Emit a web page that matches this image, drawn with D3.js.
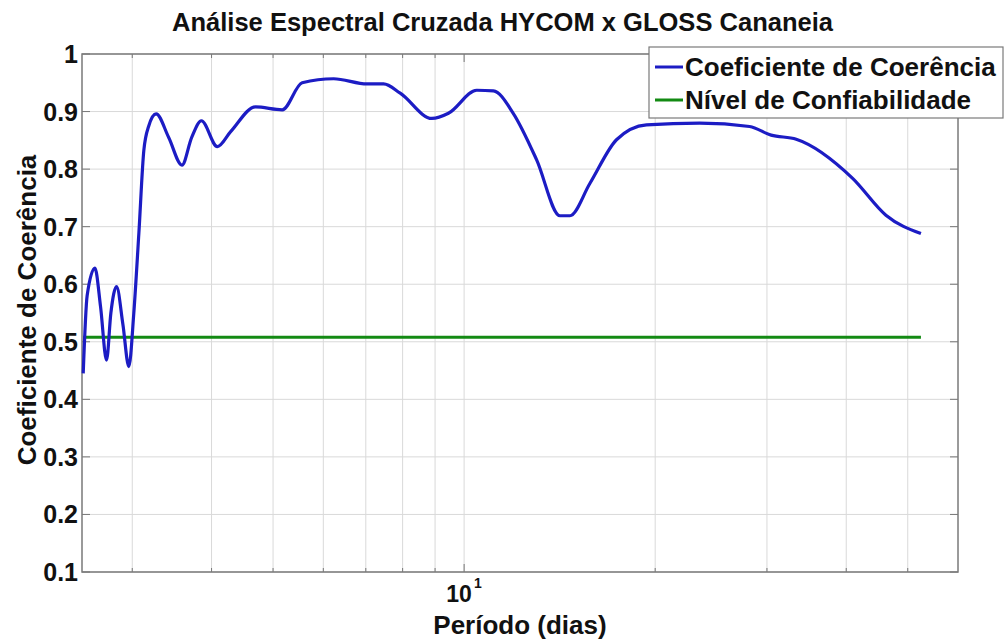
<!DOCTYPE html>
<html>
<head>
<meta charset="utf-8">
<script src="https://cdn.jsdelivr.net/npm/d3@7"></script>
<style>
  body { margin: 0; background: #fff; }
  text { font-family: "Liberation Sans", Arial, sans-serif; font-weight: bold; fill: #111; }
</style>
</head>
<body>
<div id="chart"></div>
<script>
// Period (days) and coherence
const period = [2.511, 2.547, 2.620, 2.674, 2.733, 2.776, 2.834, 2.900, 2.963, 3.017,
  3.073, 3.129, 3.185, 3.271, 3.424, 3.593, 3.722, 3.855, 4.085, 4.287,
  4.692, 5.169, 5.557, 6.230, 7.031, 7.466, 7.931, 8.897, 9.447, 10.47,
  11.12, 11.95, 13.01, 14.16, 14.68, 15.78, 17.38, 19.38, 23.50, 28.17,
  30.46, 33.36, 40.94, 46.19, 52.45];
const coherence = [0.445, 0.580, 0.628, 0.561, 0.468, 0.550, 0.596, 0.530, 0.457, 0.550,
  0.689, 0.833, 0.875, 0.896, 0.855, 0.807, 0.855, 0.884, 0.839, 0.865,
  0.908, 0.903, 0.950, 0.957, 0.948, 0.948, 0.932, 0.888, 0.897, 0.937,
  0.936, 0.897, 0.816, 0.719, 0.719, 0.775, 0.851, 0.877, 0.880, 0.874,
  0.859, 0.852, 0.784, 0.720, 0.688];
const confidenceLevel = 0.508;

const xDomain = [2.5, 60];
const yDomain = [0.1, 1];
const xGrid = [3, 4, 5, 6, 7, 8, 9, 10, 20, 30, 40, 50];
const yTicks = [0.1, 0.2, 0.3, 0.4, 0.5, 0.6, 0.7, 0.8, 0.9, 1];

const titleText = "Análise Espectral Cruzada HYCOM x GLOSS Cananeia";
const xLabel = "Período (dias)";
const yLabel = "Coeficiente de Coerência";
const legendLabels = ["Coeficiente de Coerência", "Nível de Confiabilidade"];

const W = 1007, H = 642;
const margin = { top: 54, right: 49, bottom: 70, left: 82 };
const width = W - margin.left - margin.right;
const height = H - margin.top - margin.bottom;

const svg = d3.select("#chart").append("svg")
  .attr("width", W)
  .attr("height", H);

const g = svg.append("g")
  .attr("transform", `translate(${margin.left},${margin.top})`);

const x = d3.scaleLog().domain(xDomain).range([0, width]);
const y = d3.scaleLinear().domain(yDomain).range([height, 0]);

// grid
g.append("g").selectAll("line")
  .data(xGrid)
  .join("line")
    .attr("x1", d => x(d)).attr("x2", d => x(d))
    .attr("y1", 0).attr("y2", height)
    .attr("stroke", "#d9d9d9")
    .attr("stroke-width", 1);

g.append("g").selectAll("line")
  .data(yTicks)
  .join("line")
    .attr("x1", 0).attr("x2", width)
    .attr("y1", d => y(d)).attr("y2", d => y(d))
    .attr("stroke", "#d9d9d9")
    .attr("stroke-width", 1);

// tick marks (inside, like matlab)
const tickLen = 8;
const ticks = g.append("g").attr("stroke", "#777").attr("stroke-width", 1);
yTicks.forEach(t => {
  ticks.append("line").attr("x1", 0).attr("x2", tickLen).attr("y1", y(t)).attr("y2", y(t));
  ticks.append("line").attr("x1", width - tickLen).attr("x2", width).attr("y1", y(t)).attr("y2", y(t));
});
xGrid.forEach(t => {
  const len = t === 10 ? tickLen : tickLen / 2;
  ticks.append("line").attr("x1", x(t)).attr("x2", x(t)).attr("y1", height).attr("y2", height - len);
  ticks.append("line").attr("x1", x(t)).attr("x2", x(t)).attr("y1", 0).attr("y2", len);
});

// frame
g.append("rect")
  .attr("width", width).attr("height", height)
  .attr("fill", "none")
  .attr("stroke", "#7a7a7a")
  .attr("stroke-width", 1.5);

// y tick labels
g.append("g").selectAll("text")
  .data(yTicks)
  .join("text")
    .attr("x", -4)
    .attr("y", d => y(d))
    .attr("dy", "0.36em")
    .attr("text-anchor", "end")
    .style("font-size", "25px")
    .text(d => d === 1 ? "1" : d3.format(".1f")(d));

// x tick label 10^1
g.append("text")
  .attr("x", x(10) - 5)
  .attr("y", height + 30)
  .attr("text-anchor", "middle")
  .style("font-size", "23px")
  .text("10");
g.append("text")
  .attr("x", x(10) + 10)
  .attr("y", height + 16)
  .style("font-size", "14px")
  .text("1");

// axis labels
svg.append("text")
  .attr("x", margin.left + width / 2)
  .attr("y", 634)
  .attr("text-anchor", "middle")
  .style("font-size", "26px")
  .text(xLabel);

svg.append("text")
  .attr("transform", `translate(36,${margin.top + height / 2 - 3}) rotate(-90)`)
  .attr("text-anchor", "middle")
  .style("font-size", "26px")
  .text(yLabel);

svg.append("text")
  .attr("x", 172)
  .attr("y", 31)
  .attr("textLength", 661)
  .attr("lengthAdjust", "spacingAndGlyphs")
  .style("font-size", "25px")
  .text(titleText);

// confidence level line
g.append("line")
  .attr("x1", x(period[0])).attr("x2", x(period[period.length - 1]))
  .attr("y1", y(confidenceLevel)).attr("y2", y(confidenceLevel))
  .attr("stroke", "#138a13")
  .attr("stroke-width", 3);

// coherence curve
const line = d3.line()
  .x((d, i) => x(period[i]))
  .y(d => y(d))
  .curve(d3.curveMonotoneX);

g.append("path")
  .datum(coherence)
  .attr("d", line)
  .attr("fill", "none")
  .attr("stroke", "#1c1cc4")
  .attr("stroke-width", 3.2)
  .attr("stroke-linejoin", "round");

// legend
const legend = svg.append("g").attr("transform", "translate(649,47)");
legend.append("rect")
  .attr("width", 354).attr("height", 71)
  .attr("fill", "#fff")
  .attr("stroke", "#7a7a7a")
  .attr("stroke-width", 1.2);
const legendColors = ["#1c1cc4", "#138a13"];
legendLabels.forEach((lab, i) => {
  const ly = 20 + i * 33;
  legend.append("line")
    .attr("x1", 6).attr("x2", 34)
    .attr("y1", ly).attr("y2", ly)
    .attr("stroke", legendColors[i])
    .attr("stroke-width", 3);
  legend.append("text")
    .attr("x", 36)
    .attr("y", ly)
    .attr("dy", "0.36em")
    .style("font-size", "26px")
    .text(lab);
});
</script>
</body>
</html>
